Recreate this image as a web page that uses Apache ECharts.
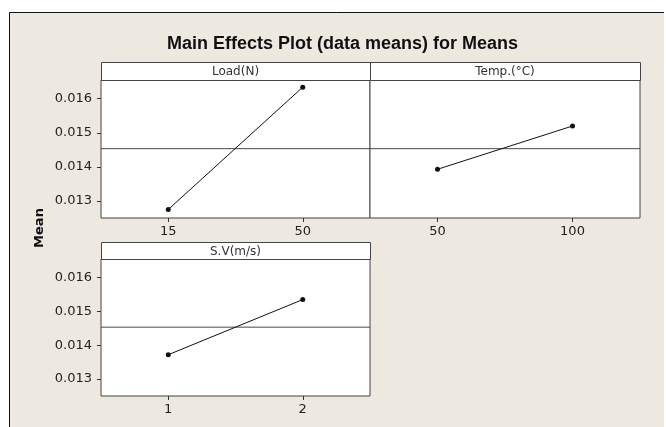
<!DOCTYPE html>
<html>
<head>
<meta charset="utf-8">
<script src="https://cdn.jsdelivr.net/npm/echarts@6/dist/echarts.min.js"></script>
<style>html,body{margin:0;padding:0;background:#fff;}#c{width:666px;height:427px;}</style>
</head>
<body>
<div id="c"></div>
<script>
const chartTitle = 'Main Effects Plot (data means) for Means';
const yName = 'Mean';
const panelNames = ['Load(N)', 'Temp.(°C)', 'S.V(m/s)'];
const loadLevels = ['15', '50'];
const loadMeans = [0.01275, 0.01634];
const tempLevels = ['50', '100'];
const tempMeans = [0.01393, 0.01520];
const svLevels = ['1', '2'];
const svMeans = [0.01372, 0.01535];
const grandMean = 0.014535;
const yTicks = [0.013, 0.014, 0.015, 0.016];

const FONT = 'DejaVu Sans';
const panels = [
  {grid: {left: 101, top: 80, width: 269, height: 138}, head: [101, 62, 269, 18], cats: loadLevels, vals: loadMeans, yLabels: true},
  {grid: {left: 370, top: 80, width: 270, height: 138}, head: [370, 62, 270, 18], cats: tempLevels, vals: tempMeans, yLabels: false},
  {grid: {left: 101, top: 259, width: 269, height: 137}, head: [101, 242, 269, 17], cats: svLevels, vals: svMeans, yLabels: true}
];

const chart = echarts.init(document.getElementById('c'), null, {renderer: 'canvas'});

const graphics = [
  {type: 'rect', shape: {x: 9, y: 12, width: 655, height: 420}, style: {fill: '#eee9e0'}, z: -10},
  {type: 'line', shape: {x1: 9.5, y1: 12.5, x2: 664, y2: 12.5}, style: {stroke: '#111', lineWidth: 1}, z: -9},
  {type: 'line', shape: {x1: 9.5, y1: 12.5, x2: 9.5, y2: 427}, style: {stroke: '#111', lineWidth: 1}, z: -9},
  {type: 'text', x: 40, y: 228, rotation: Math.PI / 2, style: {text: yName, font: 'bold 13px "' + FONT + '"', fill: '#111', align: 'center', verticalAlign: 'middle'}}
];
panels.forEach((p, i) => {
  const [x, y, w, h] = p.head;
  graphics.push({type: 'rect', shape: {x: x + 0.5, y: y + 0.5, width: w, height: h}, style: {fill: '#fff', stroke: '#444', lineWidth: 1}, z: 5});
  graphics.push({type: 'text', x: x + w / 2, y: y + h / 2 + 1, style: {text: panelNames[i], font: '12px "' + FONT + '"', fill: '#333', align: 'center', verticalAlign: 'middle'}, z: 6});
});

const catAxes = panels.map((p, i) => ({
  type: 'category', gridIndex: i, data: p.cats, boundaryGap: true,
  axisLine: {show: false},
  axisTick: {show: true, alignWithLabel: true, length: 4, lineStyle: {color: '#333'}},
  axisLabel: {fontFamily: FONT, fontSize: 13, color: '#222', margin: 7}
}));
// hidden value axes used only to stretch the grand-mean reference line across each panel
const refAxes = panels.map((p, i) => ({
  type: 'value', gridIndex: i, min: 0, max: 1, show: false
}));

const option = {
  backgroundColor: '#fff',
  animation: false,
  title: {text: chartTitle, left: 162, top: 30, textStyle: {fontFamily: 'Liberation Sans', fontWeight: 'bold', fontSize: 18, color: '#111'}},
  graphic: graphics,
  grid: panels.map(p => Object.assign({show: true, backgroundColor: '#fff', borderColor: '#444', borderWidth: 1}, p.grid)),
  xAxis: catAxes.concat(refAxes),
  yAxis: panels.map((p, i) => ({
    type: 'value', gridIndex: i, min: 0.0125, max: 0.01655,
    splitLine: {show: false},
    axisLine: {show: false},
    axisTick: {show: p.yLabels, length: 4, customValues: yTicks, lineStyle: {color: '#333'}},
    axisLabel: {show: p.yLabels, customValues: yTicks, formatter: v => v.toFixed(3), fontFamily: FONT, fontSize: 13, color: '#222', margin: 9}
  })),
  series: panels.map((p, i) => ({
    type: 'line', xAxisIndex: panels.length + i, yAxisIndex: i,
    data: [[0, grandMean], [1, grandMean]],
    symbol: 'none', silent: true, z: 1,
    lineStyle: {color: '#4a4a4a', width: 1}
  })).concat(panels.map((p, i) => ({
    type: 'line', xAxisIndex: i, yAxisIndex: i, data: p.vals,
    symbol: 'circle', symbolSize: 5, showSymbol: true, z: 3,
    lineStyle: {color: '#111', width: 1}, itemStyle: {color: '#111'}
  })))
};
chart.setOption(option);
</script>
</body>
</html>
